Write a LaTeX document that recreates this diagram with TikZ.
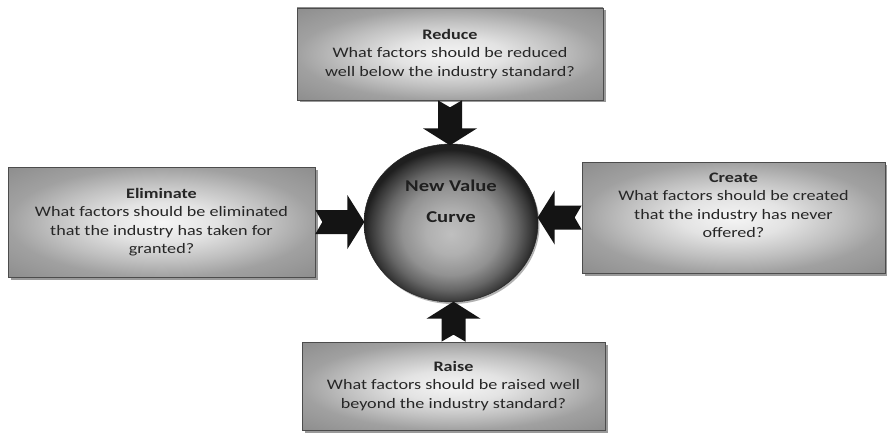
\documentclass[tikz,border=0pt]{standalone}
\usepackage{fontspec}
\setmainfont[FakeStretch=1.25]{Carlito}
\usetikzlibrary{shapes.geometric,shadows}
\pgfdeclareradialshading{boxshade}{\pgfpoint{0bp}{0bp}}{color(0bp)=(gray!8); color(9bp)=(gray!22); color(18bp)=(gray!50); color(25bp)=(gray!74); color(36bp)=(gray!90); color(50bp)=(gray!90)}
\pgfdeclareradialshading{ballshade}{\pgfpoint{0bp}{-3.5bp}}{color(0bp)=(gray!50); color(7bp)=(gray!62); color(14bp)=(gray!86); color(19bp)=(black!60); color(23bp)=(black!78); color(25bp)=(black!88); color(50bp)=(black!88)}
\tikzset{
  pics/notcharrow/.style={code={
    \fill[black!92] (0,-12) -- (#1-17,-12) -- (#1-17,-27) -- (#1,0) -- (#1-17,27) -- (#1-17,12) -- (0,12) -- (7,0) -- cycle;}},
  box/.style={draw=black!70, line width=0.7pt, shading=boxshade,
    drop shadow={shadow xshift=2.5pt,shadow yshift=-2.5pt,fill=black,opacity=0.4},
    align=center, font=\fontsize{14.5}{18.5}\selectfont, text=black!85, inner sep=0pt},
  ball/.style={ellipse, draw=black!85, line width=0.5pt, shading=ballshade,
    drop shadow={shadow xshift=1.5pt,shadow yshift=-2pt,fill=black,opacity=0.3},
    minimum width=174pt, minimum height=158pt, inner sep=0pt},
  balltext/.style={font=\bfseries\fontsize{16.5}{31}\selectfont, text=black!88, align=center}
}
\begin{document}
\begin{tikzpicture}[x=1pt,y=-1pt]
\useasboundingbox[fill=white] (0,0) rectangle (887,436);
\node[box, minimum width=306pt, minimum height=92pt] (reduce) at (450,54)
  {\textbf{Reduce}\\ What factors should be reduced\\ well below the industry standard?};
\node[box, minimum width=307pt, minimum height=110pt] (elim) at (161.5,222)
  {\textbf{Eliminate}\\ What factors should be eliminated\\ that the industry has taken for\\ granted?};
\node[box, minimum width=303pt, minimum height=111pt] (create) at (733.5,217.5)
  {\textbf{Create}\\ What factors should be created\\ that the industry has never\\ offered?\\[6pt]};
\node[box, minimum width=303pt, minimum height=88pt] (raise) at (453.5,386)
  {\textbf{Raise}\\ What factors should be raised well\\ beyond the industry standard?};
\node[ball] (ball) at (451,223) {};
\node[balltext] (bt) at (451,201) {New Value\\ Curve};
\pic[rotate=-90] at (reduce.south) {notcharrow=45};
\pic at (elim.east) {notcharrow=49};
\pic[rotate=180] at (create.west) {notcharrow=44};
\pic[rotate=90] at (raise.north) {notcharrow=40};
\end{tikzpicture}
\end{document}
